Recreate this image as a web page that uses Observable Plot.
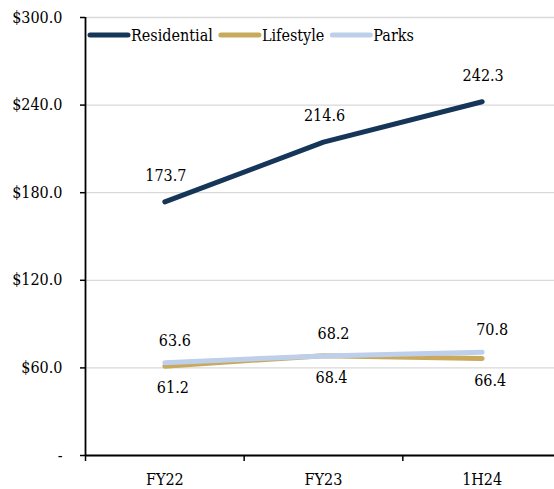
<!DOCTYPE html>
<html>
<head>
<meta charset="utf-8">
<script src="https://cdn.jsdelivr.net/npm/d3@7"></script>
<script src="https://cdn.jsdelivr.net/npm/@observablehq/plot@0.6"></script>
<style>
  html, body { margin: 0; padding: 0; background: #fff; }
  #chart { width: 554px; height: 489px; }
  #chart svg, #chart svg text { font-family: "DejaVu Serif Condensed", "DejaVu Serif", serif !important; font-stretch: condensed; }
</style>
</head>
<body>
<div id="chart"></div>
<script>
// Periods on the x axis
const periods = ["FY22", "FY23", "1H24"];
// Series names, in drawing order
const seriesNames = ["Residential", "Lifestyle", "Parks"];
const seriesColors = ["#163659", "#c9a95b", "#bdcfea"];
// Values per series ($m)
const residential = [173.7, 214.6, 242.3];
const lifestyle = [61.2, 68.4, 66.4];
const parks = [63.6, 68.2, 70.8];
// Value axis ticks
const yTicks = [0, 60, 120, 180, 240, 300];

const seriesValues = [residential, lifestyle, parks];
const rows = seriesNames.flatMap((name, s) =>
  seriesValues[s].map((v, i) => ({ series: name, period: periods[i], idx: i, value: v }))
);

// Label placement per series (above or below the line)
const labelOffsets = {
  Residential: { dx: 1, dy: -26 },
  Lifestyle: { dx: 8, dy: 22 },
  Parks: { dx: 10, dy: -22 }
};

const fs = 16;
const boundaries = d3.range(-0.5, periods.length, 1);

const chart = Plot.plot({
  width: 554,
  height: 489,
  marginTop: 17,
  marginBottom: 34,
  marginLeft: 85,
  marginRight: -7,
  style: { fontSize: fs + "px", color: "#000", background: "#fff", overflow: "hidden" },
  x: { type: "linear", domain: [-0.5, periods.length - 0.5] },
  y: { domain: [0, 300] },
  color: { domain: seriesNames, range: seriesColors },
  marks: [
    Plot.gridY(yTicks, { stroke: "#d9d9d9", strokeOpacity: 1, strokeWidth: 1.3 }),
    Plot.axisY(yTicks, {
      tickSize: 5, tickPadding: 18, stroke: "#000", strokeWidth: 1.5,
      fontSize: fs, label: null,
      tickFormat: d => d === 0 ? "-" : "$" + d.toFixed(1)
    }),
    Plot.axisX(d3.range(periods.length), {
      tickSize: 0, tickPadding: 18, fontSize: fs, label: null,
      tickFormat: i => periods[i]
    }),
    Plot.axisX(boundaries, { tickSize: 6, stroke: "#000", strokeWidth: 1.5, tickFormat: () => "", label: null }),
    Plot.ruleX([-0.5], { stroke: "#000", strokeWidth: 1.8 }),
    Plot.ruleY([0], { stroke: "#000", strokeWidth: 1.8 }),
    Plot.line(rows, {
      x: "idx", y: "value", z: "series", stroke: "series",
      strokeWidth: 5, strokeLinecap: "round", strokeLinejoin: "round"
    }),
    ...seriesNames.map(name =>
      Plot.text(rows.filter(r => r.series === name), {
        x: "idx", y: "value", text: d => d.value.toFixed(1),
        dx: labelOffsets[name].dx, dy: labelOffsets[name].dy,
        fill: "#000", fontSize: fs
      })
    )
  ]
});

document.getElementById("chart").appendChild(chart);

// Legend row drawn inside the plot area, along the top
const svg = d3.select(chart);
const legend = svg.append("g").attr("font-size", fs).attr("text-anchor", "start");
let lx = 88;
const ly = 35;
seriesNames.forEach((name, i) => {
  legend.append("line")
    .attr("x1", lx + 2).attr("x2", lx + 40)
    .attr("y1", ly).attr("y2", ly)
    .attr("stroke", seriesColors[i]).attr("stroke-width", 5)
    .attr("stroke-linecap", "round");
  const t = legend.append("text")
    .attr("x", lx + 43).attr("y", ly).attr("dy", "0.35em")
    .attr("fill", "#000").text(name);
  lx = lx + 43 + t.node().getComputedTextLength() + 6;
});
</script>
</body>
</html>
